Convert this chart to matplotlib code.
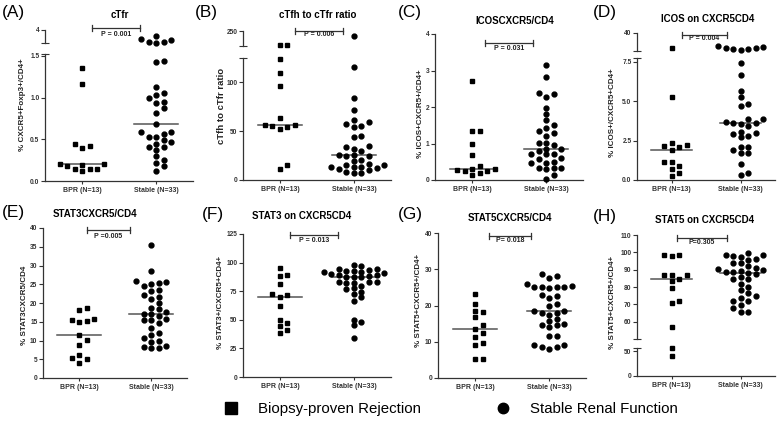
import numpy as np
import matplotlib
matplotlib.use('Agg')
import matplotlib.pyplot as plt
from matplotlib.lines import Line2D

plt.rcParams['font.family'] = ['Liberation Sans', 'DejaVu Sans']
plt.rcParams['font.weight'] = 'bold'

W, H = 778, 426
groups = ['BPR (N=13)', 'Stable (N=33)']
axcol = '#333333'

########## Data
a_bpr = [1.35, 1.16, 0.44, 0.40, 0.42, 0.18, 0.20, 0.19, 0.20, 0.12, 0.14, 0.14, 0.14]
a_stable = [3.34, 3.08, 3.53, 3.00, 3.10, 3.21,
            1.44, 1.43, 1.13, 1.06, 1.03, 0.99, 0.95, 0.93, 0.87, 0.81, 0.69,
            0.59, 0.59, 0.57, 0.53, 0.53, 0.47, 0.49, 0.45, 0.41, 0.41, 0.37,
            0.30, 0.25, 0.22, 0.18, 0.12]

b_bpr = [160, 160, 123, 109, 96, 63, 56.5, 51.7, 56.5, 54.4, 55, 11.6, 15]
b_stable = [214, 115.6, 84, 71, 59.5, 57, 55.4, 61, 54, 45, 44, 34.7, 34, 32, 30,
            25.5, 24.5, 24.5, 25.5, 20.4, 19.7, 15.3, 15.3, 13.6, 13.6, 13.6,
            10.9, 10.2, 11.9, 8.5, 6.8, 6.8, 16.3]

c_bpr = [2.72, 1.33, 1.33, 0.99, 0.69, 0.29, 0.26, 0.13, 0.28, 0.19, 0.25, 0.37, 0.29]
c_stable = [3.16, 2.83, 2.35, 2.39, 2.28, 1.98, 1.80, 1.64, 1.52, 1.43, 1.34, 1.29,
            1.20, 0.85, 1.02, 0.97, 1.02, 0.86, 0.72, 0.72, 0.70, 0.60, 0.58, 0.47,
            0.47, 0.49, 0.30, 0.33, 0.33, 0.33, 0.15, 0.03, 0.80]

d_bpr = [15.2, 5.27, 2.12, 2.17, 2.34, 2.2, 1.91, 1.13, 1.13, 0.89, 0.68, 0.42, 0.25]
d_stable = [17.5, 14.0, 13.0, 17.0, 15.5, 12.0, 15.0,
            7.44, 6.69, 5.63, 5.25, 4.84, 4.72, 3.87, 3.87, 3.7, 3.65, 3.65, 3.55,
            3.4, 3.08, 3.0, 2.8, 2.9, 2.72, 2.12, 2.12, 1.91, 1.7, 1.7, 1.0, 0.47, 0.32]

e_bpr = [18.6, 18.1, 15.7, 15.6, 15.0, 15.3, 11.4, 10.1, 8.9, 6.25, 5.45, 4.0, 5.2]
e_stable = [35.4, 28.6, 25.3, 25.9, 25.0, 25.5, 24.6, 23.5, 23.2, 22.1, 21.7, 21.1,
            20.1, 18.8, 18.4, 17.1, 17.5, 17.2, 16.6, 15.6, 15.7, 15.4, 14.8, 13.4,
            12.1, 11.4, 10.7, 9.8, 9.6, 8.6, 8.0, 8.0, 8.3]

f_bpr = [95.6, 88.7, 89.2, 81.1, 71.8, 72.4, 70.3, 62.2, 50.0, 47.1, 44.2, 41.3, 38.4]
f_stable = [98, 94.5, 92.7, 93.6, 92.2, 94.5, 91.6, 97.4, 92.7, 90.7, 87.8, 89.2,
            89.8, 88.7, 89.2, 83.4, 82.6, 82.0, 83.4, 83.4, 77.6, 77.0, 72.7, 69.5,
            66.0, 50.0, 47.7, 45.1, 34.0, 87.5, 87.0, 79.5, 74.5]

g_bpr = [23.1, 20.5, 18.2, 18.4, 16.8, 14.7, 13.6, 12.5, 11.3, 9.7, 9.2, 5.3, 5.3]
g_stable = [28.8, 28.2, 27.5, 25.5, 25.0, 25.8, 25.0, 25.2, 25.0, 24.8, 22.8, 22.5,
            22.0, 20.5, 20.0, 18.5, 18.0, 18.5, 17.8, 17.5, 16.3, 15.8, 14.5, 14.5,
            14.8, 14.0, 11.5, 11.5, 9.2, 9.2, 8.5, 8.5, 8.0]

h_bpr = [97.9, 98.3, 98.3, 86.8, 86.8, 86.8, 84.5, 83.3, 79.4, 71.7, 70.5, 57, 40]
h_stable = [99.5, 98.5, 98.5, 98.0, 97.5, 96.0, 95.5, 94.0, 94.0, 92.0, 91.0, 90.5,
            90.0, 89.5, 88.5, 88.5, 88.0, 87.5, 86.0, 84.5, 84.5, 82.0, 80.0, 78.5,
            76.5, 75.0, 73.5, 72.0, 72.0, 69.5, 68.0, 65.5, 65.5]


fig = plt.figure(figsize=(W / 100, H / 100), dpi=100)


def px(x, y):
	return x / W, 1 - y / H


def swarm(ax, center, vals, step=7.5, dmin=5.6):
	# simple beeswarm in screen pixels
	vals = np.asarray(vals, float)
	if len(vals) == 0:
		return vals
	p = ax.transData.transform(np.column_stack([np.full(len(vals), center), vals]))
	ppu = ax.transData.transform([[1, 0]])[0, 0] - ax.transData.transform([[0, 0]])[0, 0]
	ys = p[:, 1]
	offs = np.zeros(len(vals))
	placed = []
	for i in np.argsort(vals):
		for k in [0, 1, -1, 2, -2, 3, -3, 4, -4, 5, -5, 6, -6]:
			x = k * step
			if all((x - qx) ** 2 + (ys[i] - qy) ** 2 >= dmin ** 2 for qx, qy in placed):
				break
		placed.append((x, ys[i]))
		offs[i] = x
	return center + offs / ppu


def panel(letter, title, ylabel, left, width, segs, bpr, stable, ptext, txt):
	# segs: list of (top, bottom, ylim, ticks, ticklabels), lowest segment first
	axes = []
	for j, (top, bottom, ylim, ticks, tlabels) in enumerate(segs):
		ax = fig.add_axes([left / W, 1 - bottom / H, width / W, (bottom - top) / H])
		ax.patch.set_visible(False)
		ax.set_xlim(0.5, 2.5)
		ax.set_ylim(*ylim)
		ax.spines['top'].set_visible(False)
		ax.spines['right'].set_visible(False)
		ax.spines['left'].set_color(axcol)
		ax.spines['left'].set_linewidth(0.9)
		ax.set_yticks(ticks)
		ax.set_yticklabels(tlabels)
		ax.tick_params(axis='y', length=3, width=0.8, labelsize=4.8, pad=1, colors=axcol)
		if j == 0:
			ax.spines['bottom'].set_color(axcol)
			ax.spines['bottom'].set_linewidth(0.9)
			ax.set_xticks([1, 2])
			ax.set_xticklabels(groups)
			ax.tick_params(axis='x', length=2.5, width=0.8, labelsize=5, pad=2, colors=axcol)
			if len(segs) > 1:
				ax.set_yticks([ylim[1]], minor=True)
		else:
			ax.spines['bottom'].set_visible(False)
			ax.set_xticks([])
			ax.set_yticks([ylim[0]], minor=True)
		ax.tick_params(axis='y', which='minor', direction='inout', length=6, width=0.8, colors=axcol)
		axes.append(ax)

	for center, vals, mk, ms in [(1, bpr, 's', 3.4), (2, stable, 'o', 3.5)]:
		vals = np.asarray(vals, float)
		for ax in axes:
			lo, hi = ax.get_ylim()
			v = vals[(vals >= lo) & (vals <= hi)]
			if len(v):
				xs = swarm(ax, center, v)
				ax.plot(xs, v, ls='none', marker=mk, ms=ms, color='black', clip_on=False, zorder=3)
		med = np.median(vals)
		for ax in axes:
			lo, hi = ax.get_ylim()
			if lo <= med <= hi:
				ax.plot([center - 0.3, center + 0.3], [med, med], color='#555555', lw=1.1, zorder=2)
				break

	lx, ly, tx, ty, yx, yy, ysize = txt
	fig.text(*px(lx, ly), letter, fontsize=12.4, fontweight='normal', ha='center', va='center')
	fig.text(*px(tx, ty), title, fontsize=7, ha='center', va='center')
	fig.text(*px(yx, yy), ylabel, fontsize=ysize, rotation=90, ha='center', va='center', color='#222222')

	x1, x2, by, pty = ptext[1:]
	fx1, fy = px(x1, by)
	fx2, _ = px(x2, by)
	fig.add_artist(Line2D([fx1, fx2], [fy, fy], transform=fig.transFigure, color=axcol, lw=0.9))
	for fx in (fx1, fx2):
		fig.add_artist(Line2D([fx, fx], [fy - 3 / H, fy + 3 / H], transform=fig.transFigure, color=axcol, lw=0.9))
	fig.text(*px((x1 + x2) / 2, pty), ptext[0], fontsize=5, ha='center', va='center', color='#222222')


########## Row 1
panel('(A)', 'cTfr', '% CXCR5+Foxp3+/CD4+', 45, 148,
      [(54, 181, (0, 1.524), [0, 0.5, 1.0, 1.5], ['0.0', '0.5', '1.0', '1.5']),
       (30, 43, (3, 4), [4], ['4'])],
      a_bpr, a_stable, ('P = 0.001', 92, 140, 28, 34),
      (13, 12, 120, 15, 23, 105, 5.8))

panel('(B)', 'cTfh to cTfr ratio', 'cTfh to cTfr ratio', 243, 148,
      [(58, 180, (0, 124.5), [0, 50, 100], ['0', '50', '100']),
       (31, 46, (150, 250), [250], ['250'])],
      b_bpr, b_stable, ('P = 0.006', 295, 343, 31, 35),
      (206, 12, 318, 15, 222, 106, 6.8))

panel('(C)', 'ICOSCXCR5/CD4', '% ICOS+CXCR5+/CD4+', 435, 148,
      [(34, 180, (0, 4), [0, 1, 2, 3, 4], ['0', '1', '2', '3', '4'])],
      c_bpr, c_stable, ('P = 0.031', 485, 533, 43, 49),
      (410, 12, 515, 21, 421, 114, 5.8))

panel('(D)', 'ICOS on CXCR5CD4', '% ICOS+/CXCR5+CD4+', 637, 138,
      [(58, 180, (0, 7.75), [0, 2.5, 5, 7.5], ['0.0', '2.5', '5.0', '7.5']),
       (33, 51, (10, 40), [40], ['40'])],
      d_bpr, d_stable, ('P = 0.004', 682, 727, 35, 39),
      (605, 12, 708, 19, 613, 113, 5.8))

########## Row 2
panel('(E)', 'STAT3CXCR5/CD4', '% STAT3CXCR5/CD4', 43, 144,
      [(228, 378, (0, 40), list(range(0, 41, 5)), [str(v) for v in range(0, 41, 5)])],
      e_bpr, e_stable, ('P =0.005', 87, 130, 230, 236),
      (13, 213, 95, 214, 25, 305, 5.8))

panel('(F)', 'STAT3 on CXCR5CD4', '% STAT3+/CXCR5+CD4+', 243, 148,
      [(234, 377, (0, 125), list(range(0, 126, 25)), [str(v) for v in range(0, 126, 25)])],
      f_bpr, f_stable, ('P = 0.013', 290, 338, 235, 240),
      (213, 214, 302, 216, 220, 302, 5.8))

panel('(G)', 'STAT5CXCR5/CD4', '% STAT5+CXCR5+/CD4+', 438, 148,
      [(233, 378, (0, 40), [0, 10, 20, 30, 40], ['0', '10', '20', '30', '40'])],
      g_bpr, g_stable, ('P= 0.018', 489, 531, 236, 240),
      (410, 214, 510, 218, 418, 300, 5.8))

panel('(H)', 'STAT5 on CXCR5CD4', '% STAT5+CXCR5+/CD4+', 637, 138,
      [(348, 376, (0, 57), [0, 50], ['0', '50']),
       (235, 339, (50, 110), list(range(60, 111, 10)), [str(v) for v in range(60, 111, 10)])],
      h_bpr, h_stable, ('P=0.305', 677, 727, 238, 243),
      (605, 217, 705, 220, 613, 302, 5.8))

########## Legend
h1 = Line2D([], [], ls='none', marker='s', ms=8, color='black')
h2 = Line2D([], [], ls='none', marker='o', ms=7.5, color='black')
fig.legend([h1], ['Biopsy-proven Rejection'], loc='center left', bbox_to_anchor=px(223, 409),
           frameon=False, prop={'size': 10.8, 'weight': 'normal'}, handlelength=1.0,
           handletextpad=1.3, borderpad=0, borderaxespad=0)
fig.legend([h2], ['Stable Renal Function'], loc='center left', bbox_to_anchor=px(495, 409),
           frameon=False, prop={'size': 10.8, 'weight': 'normal'}, handlelength=1.0,
           handletextpad=1.3, borderpad=0, borderaxespad=0)

fig.savefig('out.png', dpi=100)
